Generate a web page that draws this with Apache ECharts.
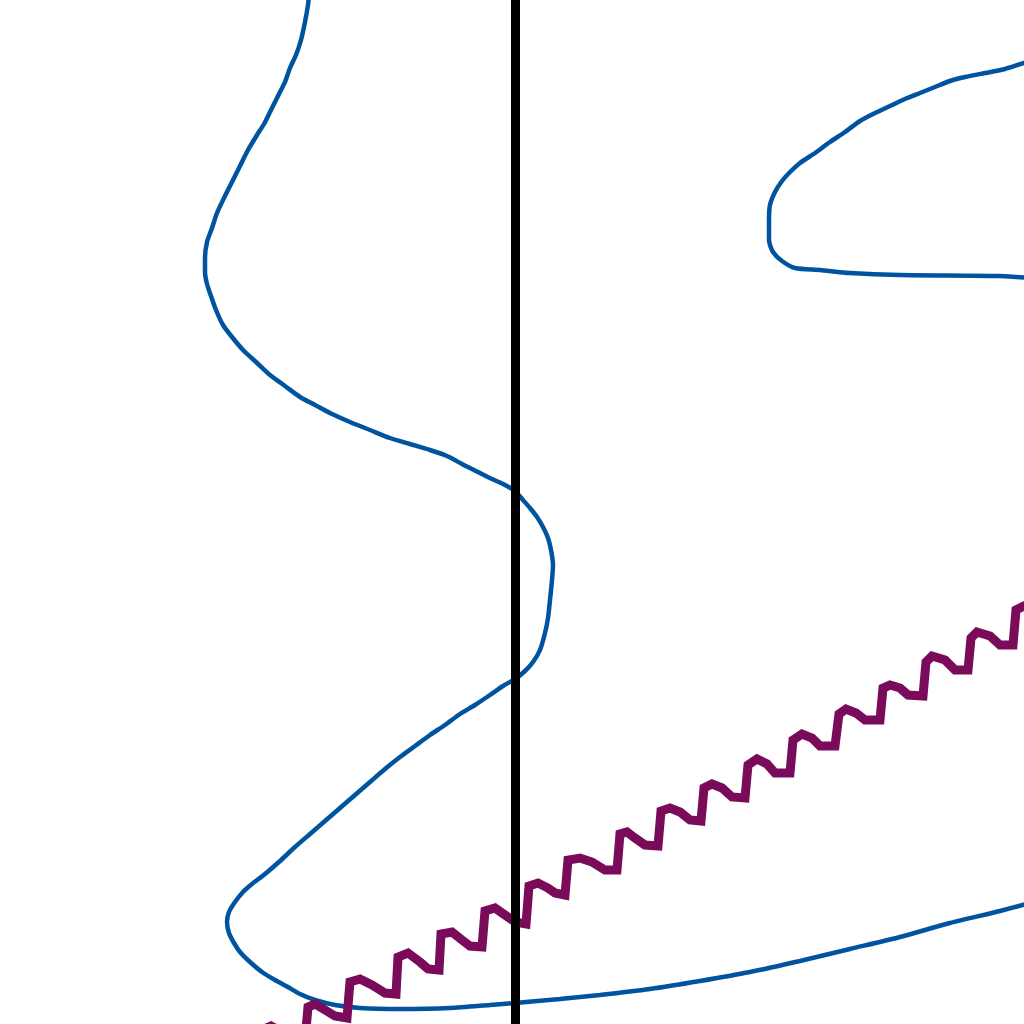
<!DOCTYPE html>
<html>
<head>
<meta charset="utf-8">
<script src="https://cdn.jsdelivr.net/npm/echarts@6/dist/echarts.min.js"></script>
<style>
html,body{margin:0;padding:0;background:#fff;}
#c{width:1024px;height:1024px;}
</style>
</head>
<body>
<div id="c"></div>
<script>
// Blue curve (main, continuous)
const blueMain = [
[309,-5],[308,5],[305,22],[301,40],[296,55],[290,68],[285,82],[280,92],[275,102],[270,112],
[264,124],[257,135],[248,150],[240,166],[232,182],[224,198],[217,213],[212,228],[207,242],[205,258],
[205,272],[207,284],[211,296],[216,310],[223,325],[232,337],[243,350],[256,362],[270,375],[285,386],
[300,397],[315,405],[330,413],[350,422],[370,430],[390,438],[410,444],[430,450],[447,456],[462,464],
[478,472],[492,479],[503,484],[515,491],[523,500],[530,508],[537,517],[543,527],[548,538],[551,550],
[553,565],[552,580],[550,600],[548,618],[545,633],[540,650],[533,662],[525,671],[515,679],[503,686],
[490,695],[475,705],[460,714],[445,725],[430,735],[415,746],[400,757],[385,769],[370,782],[355,795],
[340,808],[325,821],[310,834],[295,847],[280,861],[265,874],[252,884],[243,892],[235,902],[229,912],
[227,922],[229,933],[234,943],[240,952],[250,962],[262,972],[275,980],[288,987],[300,994],[315,1000],
[335,1005],[360,1008],[400,1009],[450,1008],[490,1005],[515,1003],[560,999],[600,995],[650,989],[700,981],
[750,972],[800,961],[850,949],[900,937],[950,923],[1000,911],[1030,903]
];
// Blue curve (upper right loop)
const blueLoop = [
[1030,62],[1024,63],[1005,69],[985,73],[965,77],[950,81],[935,87],[920,93],[905,99],[890,106],
[875,113],[860,121],[845,132],[830,142],[815,153],[800,163],[790,172],[782,181],[775,192],[770,205],
[769,220],[769,240],[773,252],[782,261],[795,268],[820,270],[850,273],[900,275],[1000,276],[1030,278]
];
// Purple zig-zag series
const purple = [
[262,1060],[264,1029],[271,1026],[282,1032],[295,1040],[305,1041],[308,1007],[315,1004],[325,1010],[335,1016],[347,1018],
[350,982],[360,979],[372,985],[385,993],[396,994],[398,957],[408,953],[420,962],[428,969],[439,970],
[441,934],[452,932],[462,940],[470,946],[482,947],[485,911],[495,908],[505,915],[515,922],[526,924],
[529,886],[538,883],[548,888],[555,893],[565,895],[568,860],[580,858],[592,862],[605,870],[617,870],
[620,834],[627,832],[635,838],[645,845],[658,846],[661,811],[670,808],[680,812],[690,820],[701,821],
[704,788],[712,784],[722,788],[732,797],[745,798],[748,765],[757,759],[767,764],[775,773],[790,773],
[793,740],[802,734],[812,738],[820,746],[835,746],[839,714],[846,709],[856,713],[865,720],[880,720],
[883,688],[890,685],[900,688],[908,695],[923,696],[926,662],[932,656],[945,660],[955,670],[968,670],
[971,638],[977,632],[990,636],[1000,645],[1013,645],[1016,610],[1024,606],[1030,604]
];
// Vertical reference line
const refLine = [[515.5,-10],[515.5,1034]];

const chart = echarts.init(document.getElementById('c'));
chart.setOption({
  animation:false,
  backgroundColor:'#ffffff',
  grid:{left:0,right:0,top:0,bottom:0},
  xAxis:{type:'value',min:0,max:1024,show:false},
  yAxis:{type:'value',min:0,max:1024,inverse:true,show:false},
  series:[
    {type:'line',data:blueMain,showSymbol:false,clip:true,smooth:0.25,lineStyle:{color:'#00549F',width:4.5},z:1},
    {type:'line',data:blueLoop,showSymbol:false,clip:true,smooth:0.25,lineStyle:{color:'#00549F',width:4.5},z:1},
    {type:'line',data:purple,showSymbol:false,clip:true,lineStyle:{color:'#7A0A5A',width:9,join:'miter'},z:2},
    {type:'line',data:refLine,showSymbol:false,clip:true,lineStyle:{color:'#000000',width:9},z:3}
  ]
});
</script>
</body>
</html>
